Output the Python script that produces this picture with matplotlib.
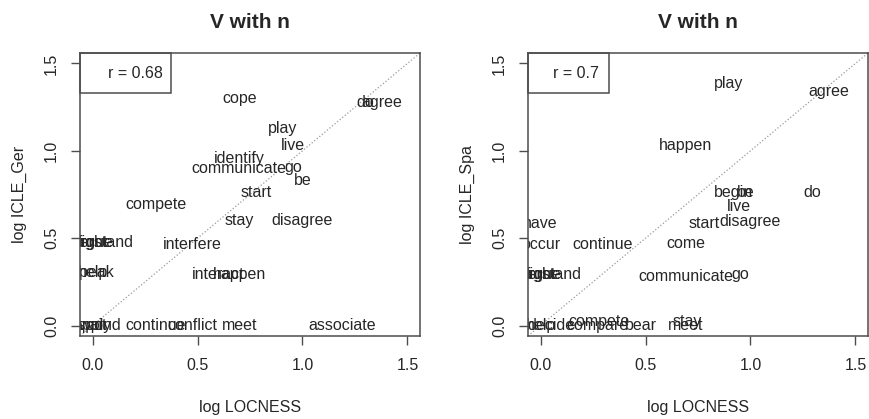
import matplotlib
matplotlib.use("Agg")
import matplotlib.pyplot as plt
from matplotlib.patches import Rectangle

plt.rcParams["font.family"] = ["Liberation Sans", "DejaVu Sans"]

# 左图：LOCNESS vs ICLE_Ger
ger_words = ["cope", "do", "agree", "play", "live", "identify", "communicate",
             "go", "be", "start", "compete", "stay", "disagree", "interfere",
             "fight", "argue", "understand", "help", "speak", "interact",
             "happen", "respond", "apply", "wait", "continue", "conflict",
             "meet", "associate"]
ger_x = [0.699, 1.301, 1.380, 0.903, 0.954, 0.699, 0.699,
         0.954, 1.0, 0.778, 0.301, 0.699, 1.0, 0.477,
         0.0, 0.0, 0.0, 0.0, 0.0, 0.6,
         0.7, 0.0, 0.0, 0.0, 0.3, 0.477,
         0.699, 1.19]
ger_y = [1.301, 1.279, 1.279, 1.13, 1.03, 0.954, 0.9,
         0.903, 0.83, 0.76, 0.69, 0.6, 0.6, 0.465,
         0.477, 0.477, 0.477, 0.301, 0.301, 0.29,
         0.29, 0.0, 0.0, 0.0, 0.0, 0.0,
         0.0, 0.0]
ger_r = 0.68

# 右图：LOCNESS vs ICLE_Spa
spa_words = ["play", "agree", "happen", "begin", "be", "do", "live",
             "disagree", "start", "come", "continue", "have", "occur",
             "fight", "argue", "understand", "communicate", "go",
             "help", "decide", "compare", "compete", "bear", "meet", "stay"]
spa_x = [0.898, 1.372, 0.692, 0.92, 0.977, 1.293, 0.945,
         1.0, 0.779, 0.692, 0.296, 0.0, 0.0,
         0.0, 0.0, 0.0, 0.692, 0.953,
         0.0, 0.05, 0.27, 0.28, 0.477, 0.69, 0.70]
spa_y = [1.387, 1.339, 1.029, 0.76, 0.76, 0.76, 0.683,
         0.593, 0.583, 0.467, 0.463, 0.583, 0.465,
         0.293, 0.293, 0.293, 0.282, 0.293,
         0.0, 0.0, 0.0, 0.025, 0.0, 0.0, 0.025]
spa_r = 0.7

ticks = [0.0, 0.5, 1.0, 1.5]
tick_labels = ["0.0", "0.5", "1.0", "1.5"]

TXT = "#262626"
FRAME = "#4d4d4d"

fig = plt.figure(figsize=(8.7, 4.19), dpi=100)
ax1 = fig.add_axes([80 / 870, 1 - 336 / 419, 340 / 870, 283 / 419])
ax2 = fig.add_axes([528 / 870, 1 - 336 / 419, 340 / 870, 283 / 419])


def draw_panel(ax, words, xs, ys, r, ylabel, box_w, r_x):
    ax.set_xlim(-0.06, 1.56)
    ax.set_ylim(-0.06, 1.56)

    # 对角虚线
    ax.plot([-0.06, 1.56], [-0.06, 1.56], color="#9a9a9a", linestyle=":",
            linewidth=0.9, zorder=1)

    for w, x, y in zip(words, xs, ys):
        ax.text(x, y, w, ha="center", va="center", fontsize=11.5,
                color=TXT, clip_on=True, zorder=2)

    # 相关系数框
    ax.add_patch(Rectangle((0, 1 - 0.142), box_w, 0.142, transform=ax.transAxes,
                           fill=False, edgecolor=FRAME, linewidth=1.1,
                           clip_on=False, zorder=3))
    ax.text(r_x, 1 - 0.071, "r = %s" % r, transform=ax.transAxes,
            ha="right", va="center", fontsize=11.5, color=TXT)

    ax.set_xticks(ticks)
    ax.set_xticklabels(tick_labels)
    ax.set_yticks(ticks)
    ax.set_yticklabels(tick_labels, rotation=90)
    ax.tick_params(axis="both", direction="out", length=6.5, width=1.0,
                   color=FRAME, labelcolor=TXT, labelsize=11.5)
    ax.tick_params(axis="x", pad=9)
    ax.tick_params(axis="y", pad=8.5)
    for lab in ax.get_yticklabels():
        lab.set_rotation_mode("default")
        lab.set_ha("right")
        lab.set_va("center")

    for s in ax.spines.values():
        s.set_color(FRAME)
        s.set_linewidth(1.1)

    ax.set_title("V with n", fontsize=15, fontweight="bold", color=TXT, pad=18)
    ax.set_xlabel("log LOCNESS", fontsize=11.5, color=TXT, labelpad=20)
    ax.set_ylabel(ylabel, fontsize=11.5, color=TXT, labelpad=12)


draw_panel(ax1, ger_words, ger_x, ger_y, ger_r, "log ICLE_Ger", 0.268, 0.244)
draw_panel(ax2, spa_words, spa_x, spa_y, spa_r, "log ICLE_Spa", 0.238, 0.209)

fig.savefig("out.png", dpi=100)
